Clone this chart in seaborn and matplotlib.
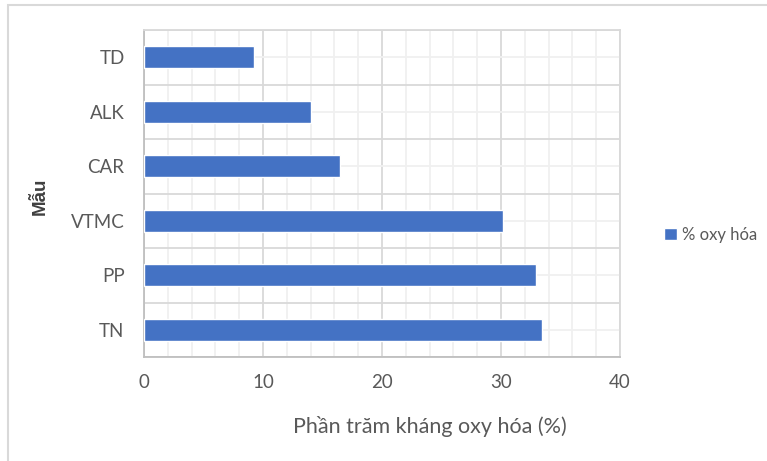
import numpy as np
import pandas as pd
import matplotlib.pyplot as plt
import matplotlib.patches as mpatches
from matplotlib.ticker import MultipleLocator, FixedLocator
import seaborn as sns

samples = ['TD', 'ALK', 'CAR', 'VTMC', 'PP', 'TN']
oxy_pct = [9.25, 14.0, 16.5, 30.2, 32.9, 33.45]
x_ticks = [0, 10, 20, 30, 40]
series_name = '% oxy hóa'

df = pd.DataFrame({'Mẫu': samples, 'pct': oxy_pct})

sns.set_theme(style='white')
plt.rcParams['font.family'] = ['Lato', 'DejaVu Sans']

fig = plt.figure(figsize=(7.67, 4.61), dpi=100)
ax = fig.add_axes([144 / 767, 1 - 357 / 461, 476 / 767, 327 / 461])

sns.barplot(data=df, x='pct', y='Mẫu', order=samples, color='#4472C4',
            width=0.4, saturation=1, label=series_name, ax=ax, zorder=3)

ax.set_xlim(0, 40)
ax.set_ylim(len(samples) - 0.5, -0.5)
ax.set_xticks(x_ticks)
ax.xaxis.set_minor_locator(MultipleLocator(2))
ax.yaxis.set_minor_locator(FixedLocator(np.arange(-0.5, len(samples), 1)))

# gridlines like Excel: major/minor in x, category borders + centers in y
ax.grid(axis='x', which='major', color='#d9d9d9', lw=1.3, zorder=0)
ax.grid(axis='x', which='minor', color='#f0f0f0', lw=1.3, zorder=0)
ax.grid(axis='y', which='minor', color='#d9d9d9', lw=1.3, zorder=0)
ax.grid(axis='y', which='major', color='#f0f0f0', lw=1.3, zorder=0)
ax.set_axisbelow(True)

for s in ['top', 'right']:
    ax.spines[s].set_color('#d9d9d9')
for s in ['left', 'bottom']:
    ax.spines[s].set_color('#bfbfbf')
for s in ax.spines.values():
    s.set_linewidth(1.3)

ax.tick_params(axis='x', which='both', length=0, pad=12, labelsize=13.5,
               labelcolor='#595959')
ax.tick_params(axis='y', which='major', length=0, pad=14, labelsize=13.5,
               labelcolor='#595959')
ax.tick_params(axis='y', which='minor', length=6, direction='in',
               color='#bfbfbf', width=1.3)

ax.set_xlabel('Phần trăm kháng oxy hóa (%)', fontsize=15.5, color='#595959')
ax.xaxis.set_label_coords(0.6, -0.18)
ax.set_ylabel('Mẫu', fontsize=13.5, fontweight='bold', color='#404040',
              family=['Liberation Sans', 'DejaVu Sans'])
ax.yaxis.set_label_coords(-0.20, 0.49)

handles, labels = ax.get_legend_handles_labels()
if ax.get_legend() is not None:
    ax.get_legend().remove()
fig.legend(handles[:1], labels[:1], loc='center left',
           bbox_to_anchor=(664 / 767, 1 - 235 / 461), frameon=False,
           fontsize=12, handlelength=0.75, handleheight=0.75,
           handletextpad=0.3, borderpad=0, borderaxespad=0,
           labelcolor='#595959')

# light outer chart frame
fig.patches.append(mpatches.Rectangle((8 / 767, -0.05), 1.0, 1 - 5 / 461 + 0.05,
                                      transform=fig.transFigure, fill=False,
                                      edgecolor='#d9d9d9', lw=1.5))

fig.savefig('out.png', dpi=100)
